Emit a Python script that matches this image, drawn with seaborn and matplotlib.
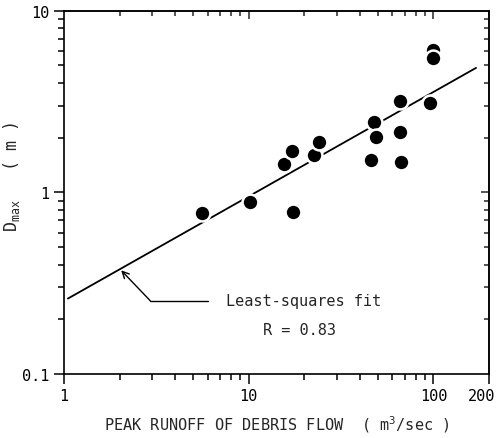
import matplotlib
matplotlib.use("Agg")
import matplotlib.pyplot as plt
import matplotlib.transforms as mtransforms
import seaborn as sns
import pandas as pd
from matplotlib.ticker import FixedLocator, FixedFormatter, LogLocator, NullFormatter

# ---- data ----
peak_runoff = [5.6, 10.1, 15.5, 17.2, 17.4, 22.6, 24.0, 45.9, 47.9, 49.1,
               65.8, 65.8, 67.0, 95.9, 100.0, 99.0]
d_max = [0.77, 0.89, 1.43, 1.70, 0.78, 1.60, 1.90, 1.50, 2.45, 2.03,
         3.20, 2.14, 1.47, 3.10, 6.10, 5.53]

fit_x = [1.05, 170.0]
fit_y = [0.26, 4.85]

x_ticks = [1, 10, 100, 200]
x_tick_labels = ["1", "10", "100", "200"]
y_ticks = [0.1, 1, 10]
y_tick_labels = ["0.1", "1", "10"]

df = pd.DataFrame({"Q": peak_runoff, "D": d_max})
fit_df = pd.DataFrame({"Q": fit_x, "D": fit_y})

sns.set_style("ticks")
plt.rcParams["font.family"] = ["DejaVu Sans Mono", "DejaVu Sans"]
plt.rcParams["mathtext.fontset"] = "custom"
plt.rcParams["mathtext.rm"] = "DejaVu Sans Mono"
plt.rcParams["mathtext.it"] = "DejaVu Sans Mono"
plt.rcParams["mathtext.default"] = "rm"

fig = plt.figure(figsize=(4.96, 4.39), dpi=100)
ax = fig.add_axes([0.129, 0.146, 0.857, 0.827])

sns.lineplot(data=fit_df, x="Q", y="D", ax=ax, color="black", lw=1.3, zorder=2)
sns.scatterplot(data=df, x="Q", y="D", ax=ax, color="black", s=130,
                edgecolor="white", linewidth=1.8, zorder=3)

ax.set_xscale("log")
ax.set_yscale("log")
ax.set_xlim(1, 200)
ax.set_ylim(0.1, 10)

ax.xaxis.set_major_locator(FixedLocator(x_ticks))
ax.xaxis.set_major_formatter(FixedFormatter(x_tick_labels))
ax.yaxis.set_major_locator(FixedLocator(y_ticks))
ax.yaxis.set_major_formatter(FixedFormatter(y_tick_labels))
ax.xaxis.set_minor_locator(LogLocator(base=10, subs=range(2, 10)))
ax.yaxis.set_minor_locator(LogLocator(base=10, subs=range(2, 10)))
ax.xaxis.set_minor_formatter(NullFormatter())
ax.yaxis.set_minor_formatter(NullFormatter())

for s in ax.spines.values():
    s.set_linewidth(1.2)
    s.set_color("black")
    s.set_visible(True)

ax.tick_params(which="major", direction="out", length=7, width=1.1,
               labelsize=11, pad=3.5, colors="black")
ax.tick_params(which="minor", direction="out", length=4, width=1.1, colors="black")

# keep the "200" label inside the figure, as in the reference
fig.canvas.draw()
last = ax.get_xticklabels()[-1]
last.set_transform(last.get_transform() +
                   mtransforms.ScaledTranslation(-7 / 100, 0, fig.dpi_scale_trans))

# inward ticks on top and right
secx = ax.secondary_xaxis("top")
secx.xaxis.set_major_locator(FixedLocator([10, 100]))
secx.xaxis.set_minor_locator(LogLocator(base=10, subs=range(2, 10)))
secx.tick_params(which="major", direction="in", length=6, width=1.1, labeltop=False)
secx.tick_params(which="minor", direction="in", length=3.5, width=1.1, labeltop=False)
secx.xaxis.set_major_formatter(NullFormatter())
secx.xaxis.set_minor_formatter(NullFormatter())
secx.spines["top"].set_linewidth(1.2)

secy = ax.secondary_yaxis("right")
secy.yaxis.set_major_locator(FixedLocator([1]))
secy.yaxis.set_minor_locator(LogLocator(base=10, subs=range(2, 10)))
secy.tick_params(which="major", direction="in", length=6, width=1.1, labelright=False)
secy.tick_params(which="minor", direction="in", length=3.5, width=1.1, labelright=False)
secy.yaxis.set_major_formatter(NullFormatter())
secy.yaxis.set_minor_formatter(NullFormatter())
secy.spines["right"].set_linewidth(1.2)

ax.set_xlabel(r"PEAK RUNOFF OF DEBRIS FLOW  ( m$^{3}$/sec )", fontsize=11, labelpad=7)
ax.set_ylabel(r"D$_{\mathrm{max}}$   ( m )", fontsize=12)
ax.yaxis.set_label_coords(-0.098, 0.545)

# annotation
ax.plot([2.93, 6.05], [0.253, 0.253], color="black", lw=1.0)
ax.annotate("", xy=(2.04, 0.372), xytext=(2.93, 0.253),
            arrowprops=dict(arrowstyle="->", color="black", lw=1.0,
                            shrinkA=0, shrinkB=0, mutation_scale=12))
ax.text(7.5, 0.253, "Least-squares fit", fontsize=11, ha="left", va="center")
ax.text(18.9, 0.175, "R = 0.83", fontsize=11, ha="center", va="center")

fig.savefig("out.png", dpi=100)
